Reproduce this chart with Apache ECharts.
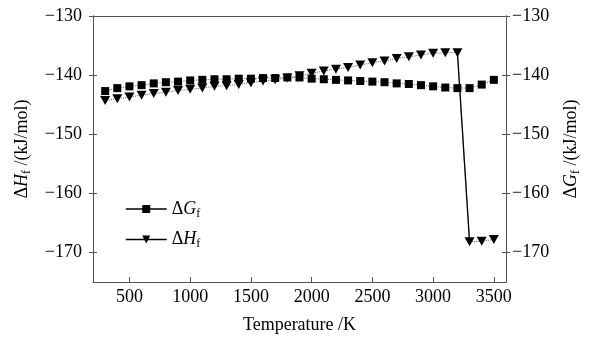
<!DOCTYPE html>
<html><head><meta charset="utf-8">
<script src="https://cdn.jsdelivr.net/npm/echarts@6/dist/echarts.min.js"></script>
<style>html,body{margin:0;padding:0;background:#fff}#c{width:593px;height:339px}</style>
</head><body><div id="c"></div>
<script>
const temperatures = [300,400,500,600,700,800,900,1000,1100,1200,1300,1400,1500,1600,1700,1800,1900,2000,2100,2200,2300,2400,2500,2600,2700,2800,2900,3000,3100,3200,3300,3400,3500];
const deltaG = [-142.7,-142.2,-141.9,-141.7,-141.4,-141.2,-141.1,-140.9,-140.8,-140.7,-140.7,-140.6,-140.6,-140.5,-140.5,-140.4,-140.4,-140.6,-140.7,-140.8,-140.9,-141.0,-141.1,-141.2,-141.4,-141.5,-141.7,-141.9,-142.1,-142.2,-142.2,-141.6,-140.8];
const deltaH = [-144.3,-144.0,-143.7,-143.4,-143.1,-142.9,-142.6,-142.4,-142.2,-141.9,-141.8,-141.6,-141.3,-141.0,-140.8,-140.5,-140.1,-139.7,-139.3,-139.0,-138.7,-138.3,-137.9,-137.6,-137.2,-136.9,-136.6,-136.3,-136.2,-136.2,-168.2,-168.1,-167.8];
const xTicks = [500,1000,1500,2000,2500,3000,3500];
const yTicks = [-170,-160,-150,-140,-130];
const dropIndex = 29;

const FONT = 'Liberation Serif';
const pairs = (ys) => temperatures.map((t,i)=>[t, ys[i]]);
const minus = v => String(v).replace('-', '\u2212');
const rich = {
  d:{fontFamily:FONT,fontSize:18,color:'#000'},
  i:{fontFamily:FONT,fontSize:18,fontStyle:'italic',color:'#000'},
  s:{fontFamily:FONT,fontSize:12,color:'#000',padding:[9,0,0,0]},
  n:{fontFamily:FONT,fontSize:18,color:'#000'}
};
const axisColor = '#555';
function yAx(pos, showLabel, inside, name, gap, margin){
  return {
    type:'value', position:pos, min:-175, max:-130, interval:10,
    axisLine:{show:true, lineStyle:{color:axisColor, width:1}},
    axisTick:{show:true, inside:inside, length:4, lineStyle:{color:axisColor}, customValues: yTicks},
    axisLabel:{show:showLabel, margin:margin, fontFamily:FONT, fontSize:18, color:'#000', formatter: minus, customValues: yTicks},
    splitLine:{show:false},
    name: name, nameLocation:'middle', nameRotate:90, nameGap:gap,
    nameTextStyle:{rich:rich}
  };
}
const chart = echarts.init(document.getElementById('c'));
chart.setOption({
  animation:false,
  backgroundColor:'#fff',
  grid:{left:93, right:87, top:16, bottom:52, containLabel:false},
  legend:{
    orient:'vertical', left:125, top:200, padding:0, itemGap:11, itemWidth:41, itemHeight:10,
    data:['G','H'],
    lineStyle:{type:'solid', color:'#000', width:1.5},
    formatter: n => n==='G' ? '{d|Δ}{i|G}{s|f}' : '{d|Δ}{i|H}{s|f}',
    textStyle:{rich:rich}
  },
  xAxis:[{
    type:'value', min:200, max:3600, position:'bottom',
    axisLine:{lineStyle:{color:axisColor}},
    axisTick:{inside:true, length:5, lineStyle:{color:axisColor}, customValues:xTicks},
    axisLabel:{margin:6, fontFamily:FONT, fontSize:18, color:'#000', formatter: v => String(v), customValues:xTicks},
    splitLine:{show:false},
    name:'Temperature /K', nameLocation:'middle', nameGap:34,
    nameTextStyle:{fontFamily:FONT, fontSize:18, color:'#000'}
  },{
    type:'value', min:200, max:3600, position:'top',
    axisLine:{lineStyle:{color:axisColor}}, axisTick:{show:false}, axisLabel:{show:false}, splitLine:{show:false}
  }],
  yAxis:[
    yAx('left', true, true, '{d|Δ}{i|H}{s|f}{n| /(kJ/mol)}', 60, 11),
    yAx('right', true, true, '{d|Δ}{i|G}{s|f}{n| /(kJ/mol)}', 55, 6),
    Object.assign(yAx('left', false, false, '', 0, 0), {name:''}),
    Object.assign(yAx('right', false, false, '', 0, 0), {name:''})
  ],
  series:[
    {name:'G', type:'line', yAxisIndex:1, data:pairs(deltaG), symbol:'rect', symbolSize:8,
     itemStyle:{color:'#000'}, lineStyle:{type:'dotted', color:'#666', width:1}},
    {name:'H', type:'line', yAxisIndex:0, data:pairs(deltaH), symbol:'triangle', symbolRotate:180, symbolSize:[10,9],
     itemStyle:{color:'#000'}, lineStyle:{type:'dotted', color:'#666', width:1}},
    {name:'drop', type:'line', yAxisIndex:0, data:[[temperatures[dropIndex], deltaH[dropIndex]],[temperatures[dropIndex+1], deltaH[dropIndex+1]]],
     symbol:'none', lineStyle:{type:'solid', color:'#000', width:1.3}, z:3}
  ]
});
</script></body></html>
